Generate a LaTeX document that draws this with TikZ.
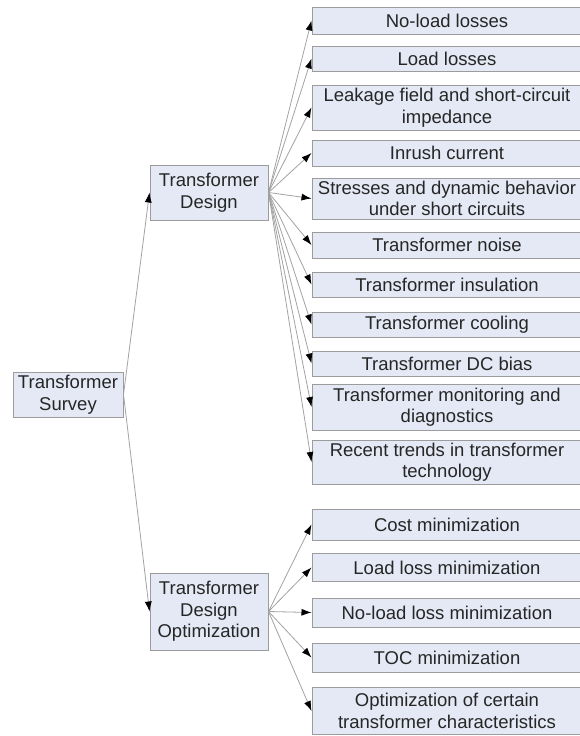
\documentclass[tikz,border=0pt]{standalone}
\usepackage{fontspec}
\setmainfont{Liberation Sans}
\usetikzlibrary{arrows.meta}
\definecolor{boxfill}{HTML}{E4E9F5}
\definecolor{boxborder}{HTML}{9C9C9C}
\definecolor{txt}{HTML}{262626}
\definecolor{conn}{HTML}{A2A2A2}
\tikzset{
  basebox/.style={draw=boxborder, line width=1pt, fill=boxfill, text=txt, align=center,
    inner sep=0pt, font=\fontsize{18.5}{21.5}\selectfont},
  leftbox/.style={basebox, minimum width=118pt},
  rightbox/.style={basebox, minimum width=270pt},
  oneline/.style={minimum height=27pt},
  twoline/.style={minimum height=45pt},
  connector/.style={draw=conn, line width=0.8pt, -{Latex[length=10pt,width=7pt,color=black]}}
}
\begin{document}
\begin{tikzpicture}[x=1pt,y=-1pt]
\useasboundingbox (0,0) rectangle (579,736);
% left nodes
\node[basebox, minimum width=110pt, minimum height=45pt] (survey) at (68,394.5) {Transformer\\Survey};
\node[leftbox, minimum height=55pt] (td) at (209,192.5) {Transformer\\Design};
\node[leftbox, minimum height=77pt] (tdo) at (209,611.5) {Transformer\\Design\\Optimization};
% right nodes, design group
\node[rightbox, oneline] (r1) at (447,20.5) {No-load losses};
\node[rightbox, oneline, minimum height=25pt] (r2) at (447,58.5) {Load losses};
\node[rightbox, twoline] (r3) at (447,107.5) {Leakage field and short-circuit\\impedance};
\node[rightbox, oneline, minimum height=26pt] (r4) at (447,153) {Inrush current};
\node[rightbox, minimum height=41pt] (r5) at (447,198.5) {Stresses and dynamic behavior\\under short circuits};
\node[rightbox, oneline, minimum height=26pt] (r6) at (447,245) {Transformer noise};
\node[rightbox, oneline, minimum height=25pt] (r7) at (447,284.5) {Transformer insulation};
\node[rightbox, oneline, minimum height=25pt] (r8) at (447,324.5) {Transformer cooling};
\node[rightbox, oneline, minimum height=25pt] (r9) at (447,363.5) {Transformer DC bias};
\node[rightbox, minimum height=46pt] (r10) at (447,407) {Transformer monitoring and\\diagnostics};
\node[rightbox, minimum height=44pt] (r11) at (447,462) {Recent trends in transformer\\technology};
% right nodes, optimization group
\node[rightbox, minimum height=31pt] (o1) at (447,524.5) {Cost minimization};
\node[rightbox, minimum height=28pt] (o2) at (447,567.5) {Load loss minimization};
\node[rightbox, minimum height=29pt] (o3) at (447,612.5) {No-load loss minimization};
\node[rightbox, minimum height=29pt] (o4) at (447,657.5) {TOC minimization};
\node[rightbox, minimum height=47pt] (o5) at (447,711) {Optimization of certain\\transformer characteristics};
% connectors
\draw[connector] (survey.east) -- (td.west);
\draw[connector] (survey.east) -- (tdo.west);
\foreach \n in {r1,r2,r3,r4,r5,r6,r7,r8,r9,r10,r11}
  \draw[connector] (td.east) -- (\n.west);
\foreach \n in {o1,o2,o3,o4,o5}
  \draw[connector] (tdo.east) -- (\n.west);
\end{tikzpicture}
\end{document}
